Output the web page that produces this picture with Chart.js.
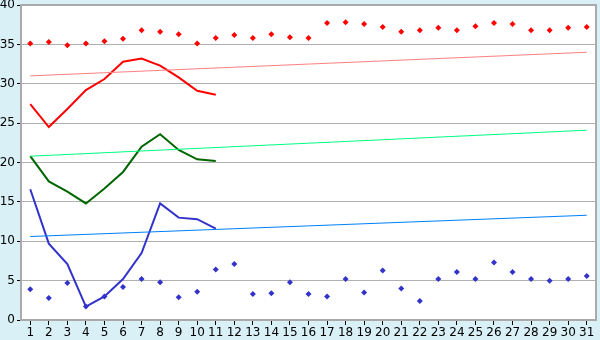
<!DOCTYPE html>
<html>
<head>
<meta charset="utf-8">
<script src="https://cdn.jsdelivr.net/npm/chart.js@4"></script>
<style>
  html, body { margin: 0; padding: 0; background: #d9f0f7; }
  #wrap { width: 600px; height: 340px; }
</style>
</head>
<body>
<div id="wrap"><canvas id="chart"></canvas></div>
<script>
// Jours du mois
const days = Array.from({ length: 31 }, (_, i) => String(i + 1));

// Points rouges / bleus (tous les jours)
const redPoints = [35.1, 35.3, 34.9, 35.1, 35.4, 35.7, 36.8, 36.6, 36.3, 35.1, 35.8,
  36.2, 35.8, 36.3, 35.9, 35.8, 37.7, 37.8, 37.6, 37.2, 36.6, 36.8, 37.1, 36.8,
  37.3, 37.7, 37.6, 36.8, 36.8, 37.1, 37.2];
const bluePoints = [3.9, 2.8, 4.7, 1.7, 3.0, 4.2, 5.2, 4.8, 2.9, 3.6, 6.4,
  7.1, 3.3, 3.4, 4.8, 3.3, 3.0, 5.2, 3.5, 6.3, 4.0, 2.4, 5.2, 6.1,
  5.2, 7.3, 6.1, 5.2, 5.0, 5.2, 5.6];

// Courbes (jours 1 à 11)
const redLine = [27.4, 24.5, 26.8, 29.2, 30.6, 32.8, 33.2, 32.3, 30.8, 29.1, 28.6];
const greenLine = [20.8, 17.6, 16.3, 14.8, 16.7, 18.8, 22.0, 23.6, 21.6, 20.4, 20.2];
const blueLine = [16.6, 9.7, 7.1, 1.7, 3.0, 5.2, 8.5, 14.8, 13.0, 12.8, 11.6];

// Tendances : valeur au jour 1 et au jour 31
const redTrend = [31.0, 34.0];
const greenTrend = [20.8, 24.1];
const blueTrend = [10.6, 13.3];

const yTicks = [0, 5, 10, 15, 20, 25, 30, 35, 40];

const trend = (ends) => [{ x: days[0], y: ends[0] }, { x: days[days.length - 1], y: ends[1] }];

// Fond bleu clair + zone blanche + cadre
const frame = {
  id: 'frame',
  beforeDraw(chart) {
    const { ctx, chartArea: a } = chart;
    ctx.save();
    ctx.fillStyle = '#d9f0f7';
    ctx.fillRect(0, 0, chart.width, chart.height);
    ctx.fillStyle = '#ffffff';
    ctx.fillRect(a.left, a.top, a.right - a.left, a.bottom - a.top);
    ctx.restore();
  },
  afterDatasetsDraw(chart) {
    const { ctx, chartArea: a } = chart;
    ctx.save();
    ctx.strokeStyle = '#aaaaaa';
    ctx.lineWidth = 2;
    ctx.beginPath();
    ctx.moveTo(a.left, a.top);
    ctx.lineTo(a.right, a.top);
    ctx.lineTo(a.right, a.bottom);
    ctx.stroke();
    ctx.restore();
  }
};

const ctx = document.getElementById('chart').getContext('2d');
new Chart(ctx, {
  type: 'line',
  data: {
    labels: days,
    datasets: [
      { data: trend(redTrend), borderColor: '#ff8080', borderWidth: 1, pointRadius: 0 },
      { data: trend(greenTrend), borderColor: '#00ff80', borderWidth: 1, pointRadius: 0 },
      { data: trend(blueTrend), borderColor: '#0080ff', borderWidth: 1, pointRadius: 0 },
      { data: redLine, borderColor: '#ff0000', borderWidth: 2, pointRadius: 0 },
      { data: greenLine, borderColor: '#006600', borderWidth: 2, pointRadius: 0 },
      { data: blueLine, borderColor: '#3333cc', borderWidth: 2, pointRadius: 0 },
      { data: redPoints, showLine: false, pointStyle: 'rectRot', pointRadius: 3,
        backgroundColor: '#ff0000', borderColor: '#ff0000', borderWidth: 0 },
      { data: bluePoints, showLine: false, pointStyle: 'rectRot', pointRadius: 3,
        backgroundColor: '#3333cc', borderColor: '#3333cc', borderWidth: 0 }
    ]
  },
  options: {
    responsive: true,
    maintainAspectRatio: false,
    animation: false,
    layout: { padding: { top: 5, right: 4, left: 0, bottom: 0 } },
    plugins: { legend: { display: false }, tooltip: { enabled: false } },
    scales: {
      x: {
        offset: true,
        grid: { drawOnChartArea: false, tickLength: 5, tickColor: '#000000', color: '#000000' },
        border: { color: '#aaaaaa', width: 2 },
        ticks: { color: '#000000', font: { family: 'DejaVu Sans', size: 12 }, padding: 1,
          maxRotation: 0, autoSkip: false },
        afterFit(scale) { scale.height = 20; scale.paddingLeft = 0; scale.paddingRight = 0; }
      },
      y: {
        min: 0,
        max: 40,
        afterBuildTicks(scale) { scale.ticks = yTicks.map(v => ({ value: v })); },
        grid: { color: '#b0b0b0', tickLength: 4, tickColor: '#000000' },
        border: { color: '#aaaaaa', width: 2 },
        ticks: { color: '#000000', font: { family: 'DejaVu Sans', size: 12 }, padding: 2 },
        afterFit(scale) { scale.width = 21; scale.paddingTop = 0; scale.paddingBottom = 0; }
      }
    }
  },
  plugins: [frame]
});
</script>
</body>
</html>
